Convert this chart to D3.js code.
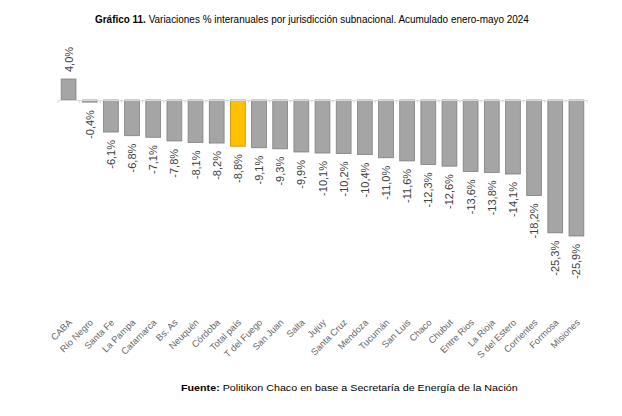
<!DOCTYPE html>
<html lang="es">
<head>
  <meta charset="UTF-8">
  <title>Gráfico 11</title>
  <script src="https://d3js.org/d3.v7.min.js"></script>
  <style>
    body {
      margin: 0;
      background: #fff;
    }
    .titulo, .fuente {
      font-family: "Liberation Sans Narrow", "Arial Narrow", "Liberation Sans", sans-serif;
      fill: #000;
    }
    .valor {
      font-family: "Liberation Sans", Arial, sans-serif;
      font-size: 11px;
      fill: #404040;
    }
    .categoria {
      font-family: "Liberation Sans", Arial, sans-serif;
      font-size: 9.3px;
      fill: #666;
    }
  </style>
</head>
<body>
  <div id="chart"></div>

  <script>
    const jurisdicciones = ["CABA", "Río Negro", "Santa Fe", "La Pampa", "Catamarca", "Bs. As",
      "Neuquén", "Córdoba", "Total país", "T del Fuego", "San Juan", "Salta", "Jujuy",
      "Santa Cruz", "Mendoza", "Tucumán", "San Luis", "Chaco", "Chubut", "Entre Rios",
      "La Rioja", "S del Estero", "Corrientes", "Formosa", "Misiones"];
    const variaciones = [4.0, -0.4, -6.1, -6.8, -7.1, -7.8, -8.1, -8.2, -8.8, -9.1, -9.3, -9.9,
      -10.1, -10.2, -10.4, -11.0, -11.6, -12.3, -12.6, -13.6, -13.8, -14.1, -18.2, -25.3, -25.9];
    const destacado = "Total país";

    const width = 622, height = 416;
    const datos = jurisdicciones.map((j, i) => ({ nombre: j, valor: variaciones[i] }));

    const svg = d3.select("#chart")
      .append("svg")
      .attr("width", width)
      .attr("height", height);

    const x = d3.scaleBand()
      .domain(jurisdicciones)
      .range([58, 587])
      .paddingInner(0.3)
      .paddingOuter(0.15);

    const y = d3.scaleLinear()
      .domain([-30, 5])
      .range([257.5, 73.75]);

    const fmt = v => d3.format(".1f")(v).replace(".", ",").replace("−", "-") + "%";

    // texto comprimido a lo ancho para imitar la fuente condensada
    function textoAncho(x0, y0, negrita, resto, tam, ancho) {
      const g = svg.append("g");
      const t = g.append("text")
        .attr("class", "titulo")
        .style("font-size", tam + "px");
      t.append("tspan").attr("font-weight", "bold").text(negrita);
      t.append("tspan").text(resto);
      const k = ancho / t.node().getComputedTextLength();
      g.attr("transform", `translate(${x0},${y0}) scale(${k},1)`);
    }

    textoAncho(95, 23, "Gráfico 11.",
      " Variaciones % interanuales por jurisdicción subnacional. Acumulado enero-mayo 2024", 11.5, 434);

    // barras
    svg.selectAll("rect.barra")
      .data(datos)
      .enter().append("rect")
      .attr("class", "barra")
      .attr("x", d => x(d.nombre))
      .attr("width", x.bandwidth())
      .attr("y", d => y(Math.max(0, d.valor)))
      .attr("height", d => Math.abs(y(d.valor) - y(0)))
      .attr("fill", d => d.nombre === destacado ? "#ffc000" : "#a5a5a5")
      .attr("stroke", d => d.nombre === destacado ? "#bf9000" : "#7f7f7f")
      .attr("stroke-width", 0.8);

    // eje horizontal en cero
    const eje = svg.append("g")
      .attr("transform", `translate(0,${y(0)})`)
      .call(d3.axisBottom(x).tickSize(0).tickFormat(""));
    eje.select(".domain").attr("stroke", "#d9d9d9").attr("stroke-width", 1.2);
    eje.selectAll(".marca")
      .data(d3.range(jurisdicciones.length + 1))
      .enter().append("line")
      .attr("class", "marca")
      .attr("x1", i => 58 + i * x.step())
      .attr("x2", i => 58 + i * x.step())
      .attr("y1", 0)
      .attr("y2", 3)
      .attr("stroke", "#d9d9d9");

    // etiquetas de valor
    svg.selectAll("text.valor")
      .data(datos)
      .enter().append("text")
      .attr("class", "valor")
      .attr("transform", d => {
        const cx = x(d.nombre) + x.bandwidth() / 2 + 4;
        const cy = d.valor >= 0 ? y(d.valor) - 7 : y(d.valor) + 8;
        return `translate(${cx},${cy}) rotate(-90)`;
      })
      .attr("text-anchor", d => d.valor >= 0 ? "start" : "end")
      .text(d => fmt(d.valor));

    // etiquetas de categoría
    svg.selectAll("text.categoria")
      .data(datos)
      .enter().append("text")
      .attr("class", "categoria")
      .attr("transform", d => `translate(${x(d.nombre) + x.bandwidth() / 2 + 4},${323}) rotate(-45)`)
      .attr("text-anchor", "end")
      .text(d => d.nombre);

    // fuente
    textoAncho(181, 391, "Fuente:",
      " Politikon Chaco en base a Secretaría de Energía de la Nación", 9.5, 337);
  </script>
</body>
</html>
